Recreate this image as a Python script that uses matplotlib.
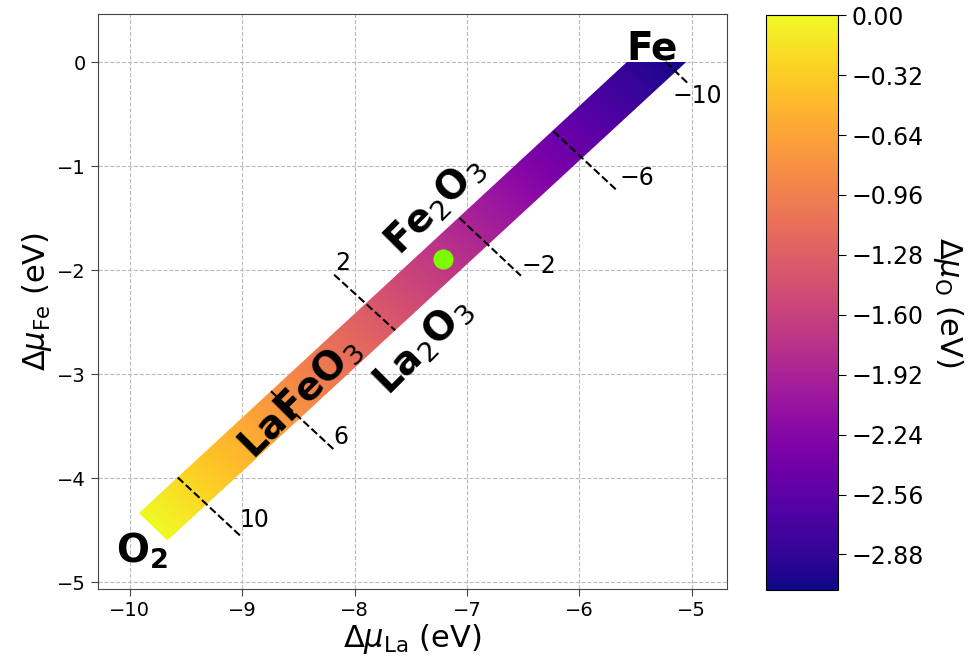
import numpy as np
import matplotlib
matplotlib.use("Agg")
import matplotlib.pyplot as plt
from matplotlib.patches import Polygon
from matplotlib.ticker import FuncFormatter

# ---- data ----
dH_LaFeO3 = -14.26                     # eV, La + Fe + 3 O
band_x = [-9.920, -9.666, -5.050, -5.578]   # stability region corners (Δμ_La)
band_y = [-4.337, -4.600, 0.000, 0.000]     # stability region corners (Δμ_Fe)

po2_labels = [10, 6, 2, -2, -6, -10]
line_x0 = [-9.575, -8.745, -8.183, -7.067, -6.231, -5.233]
line_y0 = [-3.994, -3.165, -2.045, -1.500, -0.667, 0.000]
line_x1 = [-9.012, -8.183, -7.640, -6.521, -5.667, -5.022]
line_y1 = [-4.561, -3.728, -2.580, -2.055, -1.234, -0.218]
label_x = [-8.895, -8.120, -8.103, -6.358, -5.493, -4.953]
label_y = [-4.400, -3.610, -1.930, -1.965, -1.113, -0.329]

point_x = [-7.213]
point_y = [-1.897]

phase_names = ['Fe', r'O$_\mathbf{2}$', r'Fe$_2$O$_3$', r'La$_2$O$_3$', r'LaFeO$_3$']
phase_x = [-5.35, -9.89, -7.29, -7.393, -8.49]
phase_y = [0.022, -4.817, -1.376, -2.73, -3.22]
phase_rot = [0, 0, 45, 45, 45]

cbar_ticks = [0.00, -0.32, -0.64, -0.96, -1.28, -1.60, -1.92, -2.24, -2.56, -2.88]
mu_O_min = -3.07

# ---- figure ----
fig = plt.figure(figsize=(9.69, 6.63), dpi=100)
ax = fig.add_axes([0.1008, 0.1119, 0.6494, 0.8664])
cax = fig.add_axes([0.7905, 0.1101, 0.0743, 0.867])

# colour field of Δμ_O over the band
xs = np.linspace(min(band_x), max(band_x), 600)
ys = np.linspace(min(band_y), max(band_y), 600)
X, Y = np.meshgrid(xs, ys)
MU_O = (dH_LaFeO3 - X - Y) / 3.0
poly = Polygon(np.column_stack([band_x, band_y]), closed=True,
               facecolor='none', edgecolor='none', transform=ax.transData)
ax.add_patch(poly)
im = ax.imshow(MU_O, extent=[xs[0], xs[-1], ys[0], ys[-1]], origin='lower',
               cmap='plasma', vmin=mu_O_min, vmax=0.0, aspect='auto',
               interpolation='bilinear', zorder=2)
im.set_clip_path(poly)

# pO2 dashed lines and labels
for lab, x0, y0, x1, y1, lx, ly in zip(po2_labels, line_x0, line_y0, line_x1,
                                       line_y1, label_x, label_y):
    ax.plot([x0, x1], [y0, y1], ls='--', color='black', lw=1.5, zorder=3)
    ax.text(lx, ly, f"{lab}".replace('-', '\u2212'), fontsize=17,
            ha='center', va='center', zorder=4)

ax.plot(point_x, point_y, 'o', color='#7CFC00', markersize=13.5, zorder=5)

for name, px, py, rot in zip(phase_names, phase_x, phase_y, phase_rot):
    if rot == 0:
        ax.text(px, py, name, fontsize=28, fontweight='bold', ha='center',
                va='baseline', zorder=6)
    else:
        ax.text(px, py, name, fontsize=28, fontweight='bold', ha='center',
                va='center', rotation=rot, zorder=6)

ax.set_xlim(-10.287, -4.6875)
ax.set_ylim(-5.065, 0.458)
ax.set_xticks([-10, -9, -8, -7, -6, -5])
ax.set_yticks([0, -1, -2, -3, -4, -5])
ax.grid(True, ls='--', color='#bbbbbb', lw=0.8, zorder=0)
ax.set_axisbelow(True)
ax.tick_params(labelsize=14, length=5, color='#444444')
for sp in ax.spines.values():
    sp.set_color('#444444')
ax.set_xlabel(r'$\Delta\mu_{\mathrm{La}}$ (eV)', fontsize=22, labelpad=2)
ax.set_ylabel(r'$\Delta\mu_{\mathrm{Fe}}$ (eV)', fontsize=22, labelpad=2)

fmt = FuncFormatter(lambda v, p: f"{v:.2f}".replace('-', '\u2212'))
cb = fig.colorbar(im, cax=cax, ticks=cbar_ticks, format=fmt)
cb.ax.tick_params(labelsize=17, length=6)
cb.set_label(r'$\Delta\mu_{\mathrm{O}}$ (eV)', fontsize=22, rotation=270,
             labelpad=30)

fig.savefig('out.png', dpi=100)
